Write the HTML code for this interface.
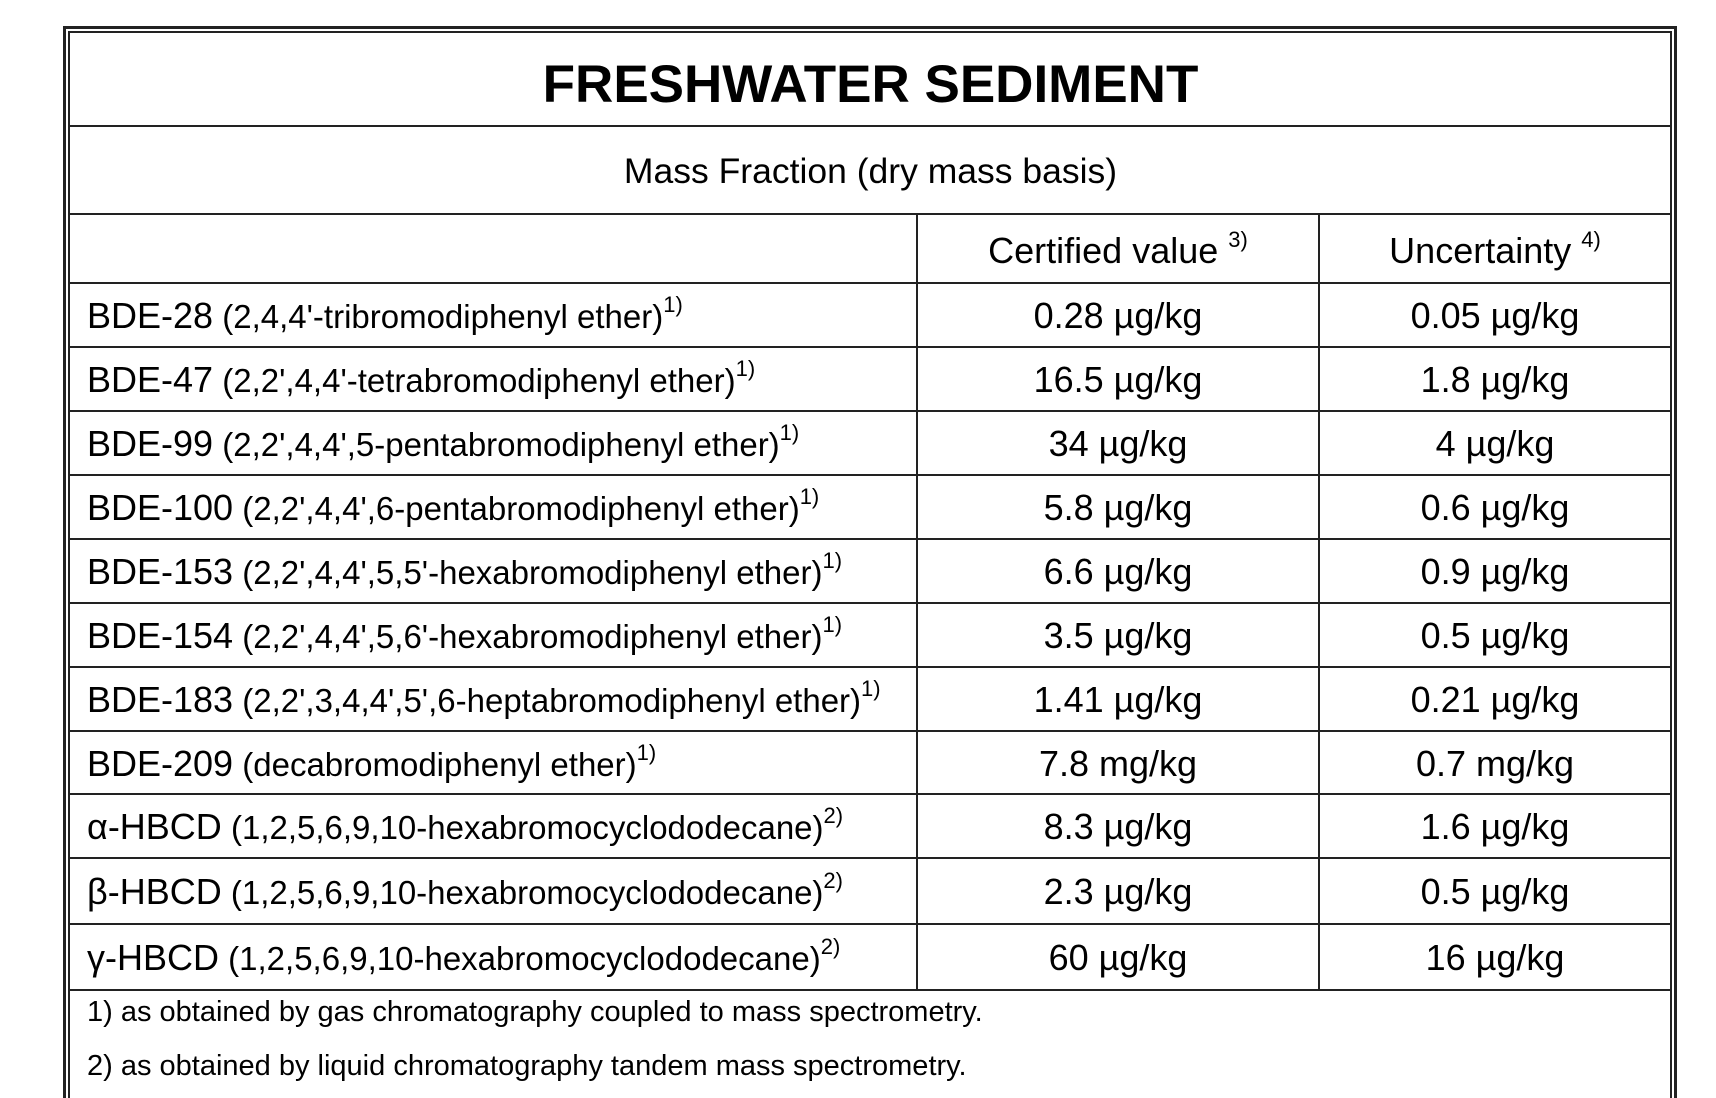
<!DOCTYPE html>
<html><head><meta charset="utf-8"><style>
html,body{margin:0;padding:0;background:#fff;}
body{width:1716px;height:1098px;position:relative;overflow:hidden;font-family:"Liberation Sans",Arial,sans-serif;color:#000;}
.l{position:absolute;background:#222;}
.t{position:absolute;white-space:nowrap;line-height:1;}
.m{font-size:36px;}
.p{font-size:33px;}
sup{font-size:22px;vertical-align:0;position:relative;top:-16px;}
</style></head><body>
<div class="l" style="left:63px;top:26px;width:1614px;height:3px;"></div>
<div class="l" style="left:63px;top:26px;width:3px;height:1072px;"></div>
<div class="l" style="left:1674px;top:26px;width:3px;height:1072px;"></div>
<div class="l" style="left:68px;top:31px;width:1604px;height:2px;"></div>
<div class="l" style="left:68px;top:31px;width:2px;height:1067px;"></div>
<div class="l" style="left:1670px;top:31px;width:2px;height:1067px;"></div>
<div class="l" style="left:68px;top:125px;width:1604px;height:2px;"></div>
<div class="l" style="left:68px;top:213px;width:1604px;height:2px;"></div>
<div class="l" style="left:68px;top:282px;width:1604px;height:2px;"></div>
<div class="l" style="left:68px;top:346px;width:1604px;height:2px;"></div>
<div class="l" style="left:68px;top:410px;width:1604px;height:2px;"></div>
<div class="l" style="left:68px;top:474px;width:1604px;height:2px;"></div>
<div class="l" style="left:68px;top:538px;width:1604px;height:2px;"></div>
<div class="l" style="left:68px;top:602px;width:1604px;height:2px;"></div>
<div class="l" style="left:68px;top:666px;width:1604px;height:2px;"></div>
<div class="l" style="left:68px;top:730px;width:1604px;height:2px;"></div>
<div class="l" style="left:68px;top:793px;width:1604px;height:2px;"></div>
<div class="l" style="left:68px;top:857px;width:1604px;height:2px;"></div>
<div class="l" style="left:68px;top:923px;width:1604px;height:2px;"></div>
<div class="l" style="left:68px;top:989px;width:1604px;height:2px;"></div>
<div class="l" style="left:916px;top:213px;width:2px;height:777px;"></div>
<div class="l" style="left:1318px;top:213px;width:2px;height:777px;"></div>

<div class="t" style="left:69px;width:1603px;text-align:center;top:58px;font-size:53px;font-weight:bold;">FRESHWATER SEDIMENT</div>
<div class="t" style="left:69px;width:1603px;text-align:center;top:154px;font-size:35.5px;">Mass Fraction (dry mass basis)</div>
<div class="t m" style="left:918px;width:400px;text-align:center;top:233px;">Certified value <sup>3)</sup></div>
<div class="t m" style="left:1320px;width:350px;text-align:center;top:233px;">Uncertainty <sup>4)</sup></div>

<div id="rows"></div>
<script>
var rows=[
["BDE-28","(2,4,4'-tribromodiphenyl ether)","1)","0.28 µg/kg","0.05 µg/kg",283,347],
["BDE-47","(2,2',4,4'-tetrabromodiphenyl ether)","1)","16.5 µg/kg","1.8 µg/kg",347,411],
["BDE-99","(2,2',4,4',5-pentabromodiphenyl ether)","1)","34 µg/kg","4 µg/kg",411,475],
["BDE-100","(2,2',4,4',6-pentabromodiphenyl ether)","1)","5.8 µg/kg","0.6 µg/kg",475,539],
["BDE-153","(2,2',4,4',5,5'-hexabromodiphenyl ether)","1)","6.6 µg/kg","0.9 µg/kg",539,603],
["BDE-154","(2,2',4,4',5,6'-hexabromodiphenyl ether)","1)","3.5 µg/kg","0.5 µg/kg",603,667],
["BDE-183","(2,2',3,4,4',5',6-heptabromodiphenyl ether)","1)","1.41 µg/kg","0.21 µg/kg",667,731],
["BDE-209","(decabromodiphenyl ether)","1)","7.8 mg/kg","0.7 mg/kg",731,794],
["α-HBCD","(1,2,5,6,9,10-hexabromocyclododecane)","2)","8.3 µg/kg","1.6 µg/kg",794,858],
["β-HBCD","(1,2,5,6,9,10-hexabromocyclododecane)","2)","2.3 µg/kg","0.5 µg/kg",858,924],
["γ-HBCD","(1,2,5,6,9,10-hexabromocyclododecane)","2)","60 µg/kg","16 µg/kg",924,990]];
var h="";
rows.forEach(function(r){
 var top=(r[5]+r[6])/2-17;
 h+='<div class="t" style="left:87px;top:'+top+'px;"><span class="m">'+r[0]+'</span><span class="p">&nbsp;'+r[1]+'</span><sup>'+r[2]+'</sup></div>';
 h+='<div class="t m" style="left:918px;width:400px;text-align:center;top:'+top+'px;">'+r[3]+'</div>';
 h+='<div class="t m" style="left:1320px;width:350px;text-align:center;top:'+top+'px;">'+r[4]+'</div>';
});
document.getElementById("rows").innerHTML=h;
</script>
<div class="t" style="left:87px;top:998px;font-size:29px;">1) as obtained by gas chromatography coupled to mass spectrometry.</div>
<div class="t" style="left:87px;top:1052px;font-size:29px;">2) as obtained by liquid chromatography tandem mass spectrometry.</div>
</body></html>
